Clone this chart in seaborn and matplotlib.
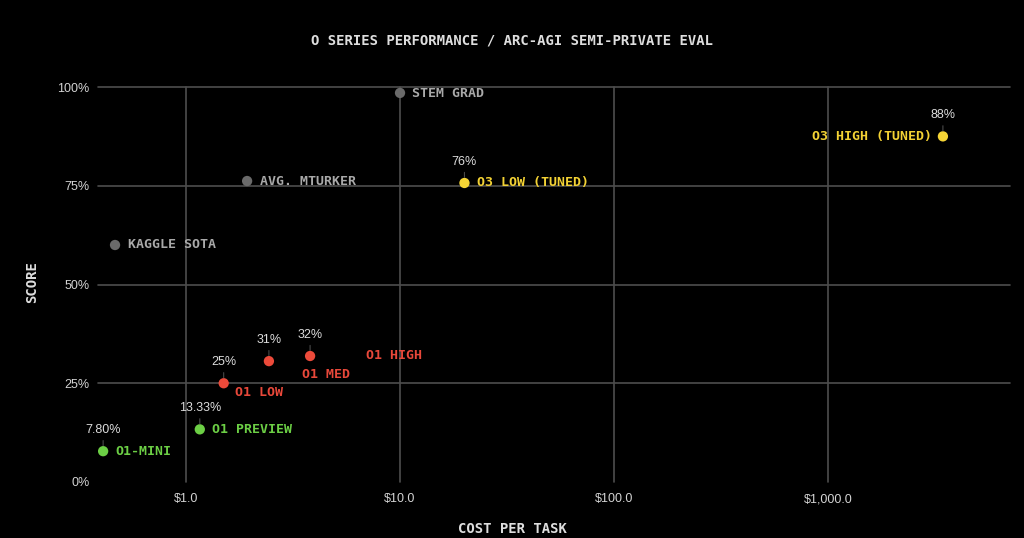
import numpy as np
import pandas as pd
import matplotlib
matplotlib.use("Agg")
import matplotlib.pyplot as plt
import seaborn as sns

# ---- data ----
names = ["O1-MINI", "O1 PREVIEW", "O1 LOW", "O1 MED", "O1 HIGH",
         "O3 LOW (TUNED)", "O3 HIGH (TUNED)",
         "KAGGLE SOTA", "AVG. MTURKER", "STEM GRAD"]
groups = ["o1-early", "o1-early", "o1", "o1", "o1", "o3", "o3", "human", "human", "human"]
cost = [0.41, 1.16, 1.5, 2.44, 3.8, 20.0, 3440.0, 0.466, 1.93, 10.0]
score = [7.8, 13.33, 25.0, 30.6, 31.9, 75.7, 87.5, 60.0, 76.2, 98.5]
value_labels = ["7.80%", "13.33%", "25%", "31%", "32%", "76%", "88%", "", "", ""]
y_ticks = [0, 25, 50, 75, 100]
y_tick_labels = ["0%", "25%", "50%", "75%", "100%"]
x_ticks = [1, 10, 100, 1000]
x_tick_labels = ["$1.0", "$10.0", "$100.0", "$1,000.0"]

df = pd.DataFrame({"name": names, "group": groups, "cost": cost,
                   "score": score, "value": value_labels})

# ---- style ----
BG = "#000000"
GRID = "#4d4d4d"
palette = {"o1-early": "#6ccf45", "o1": "#ec4a3a", "o3": "#f6d535", "human": "#6a6a6a"}
text_colors = {"o1-early": "#6ccf45", "o1": "#e8483a", "o3": "#f3d234", "human": "#a9a9a9"}
MONO = ["DejaVu Sans Mono"]
SANS = ["Liberation Sans", "DejaVu Sans"]

sns.set_style("dark")
plt.rcParams["font.family"] = SANS

fig = plt.figure(figsize=(10.24, 5.38), dpi=100, facecolor=BG)
ax = fig.add_axes([98 / 1024, 1 - 482 / 538, (1010 - 98) / 1024, (482 - 87) / 538])
ax.set_facecolor(BG)

sns.scatterplot(data=df, x="cost", y="score", hue="group", palette=palette,
                s=55, linewidth=0, legend=False, ax=ax, zorder=3, clip_on=False)

ax.set_xscale("log")
ax.set_xlim(0.388, 7080)
ax.set_ylim(0, 100)
ax.set_xticks(x_ticks)
ax.set_xticklabels(x_tick_labels)
ax.xaxis.set_minor_locator(matplotlib.ticker.NullLocator())
ax.set_yticks(y_ticks)
ax.set_yticklabels(y_tick_labels)
ax.tick_params(axis="both", length=0, colors="#d4d4d4", labelsize=9)
ax.tick_params(axis="x", pad=8)
ax.tick_params(axis="y", pad=6)
ax.grid(True, color=GRID, linewidth=1.2)
ax.get_ygridlines()[0].set_visible(False)
for gl in ax.get_ygridlines() + ax.get_xgridlines():
    gl.set_clip_on(False)
for sp in ax.spines.values():
    sp.set_visible(False)
ax.set_xlabel("")
ax.set_ylabel("")

# name label offsets (points) and alignment
name_offsets = {
    "O1-MINI": (9, 0, "left"),
    "O1 PREVIEW": (9, 0, "left"),
    "O1 LOW": (8.5, -6.5, "left"),
    "O1 MED": (24, -9.5, "left"),
    "O1 HIGH": (40, 0, "left"),
    "O3 LOW (TUNED)": (9, 0, "left"),
    "O3 HIGH (TUNED)": (-8, 0, "right"),
    "KAGGLE SOTA": (9.5, 0, "left"),
    "AVG. MTURKER": (9.5, 0, "left"),
    "STEM GRAD": (8.5, -0.5, "left"),
}

for _, r in df.iterrows():
    dx, dy, ha = name_offsets[r["name"]]
    ax.annotate(r["name"], (r["cost"], r["score"]), xytext=(dx, dy),
                textcoords="offset points", ha=ha, va="center",
                color=text_colors[r["group"]], fontsize=9.5,
                fontweight="bold", family=MONO, annotation_clip=False)
    if r["value"]:
        ax.annotate(r["value"], (r["cost"], r["score"]), xytext=(0, 11),
                    textcoords="offset points", ha="center", va="bottom",
                    color="#dcdcdc", fontsize=9, family=SANS,
                    annotation_clip=False,
                    arrowprops=dict(arrowstyle="-", color="#4a4a4a", lw=0.8,
                                    shrinkA=1, shrinkB=4))

fig.text(0.5, 1 - 40 / 538, "O SERIES PERFORMANCE / ARC-AGI SEMI-PRIVATE EVAL",
         ha="center", va="center", color="#dedede", fontsize=10,
         fontweight="bold", family=MONO)
fig.text(0.5, 1 - 529 / 538, "COST PER TASK", ha="center", va="center",
         color="#dedede", fontsize=10, fontweight="bold", family=MONO)
fig.text(32 / 1024, 1 - 282 / 538, "SCORE", ha="center", va="center",
         rotation=90, color="#dedede", fontsize=10, fontweight="bold", family=MONO)

fig.savefig("out.png", dpi=100, facecolor=BG)
